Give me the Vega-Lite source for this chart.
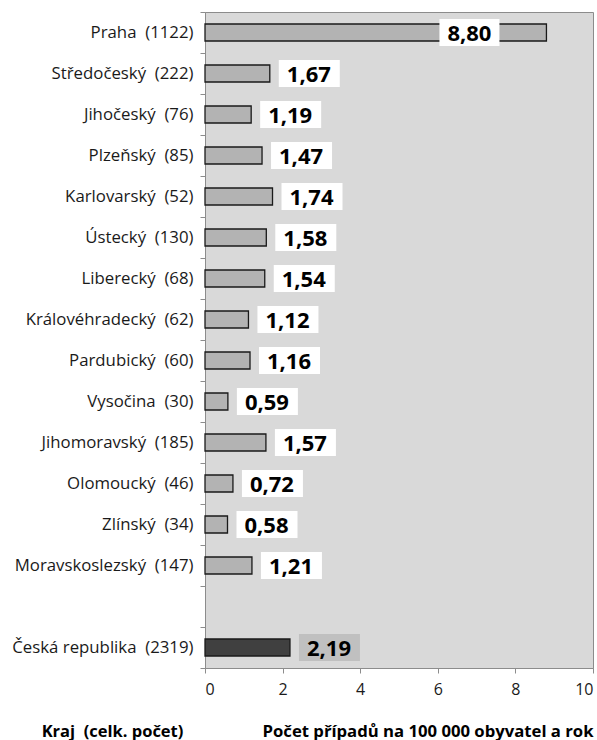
{
  "$schema": "https://vega.github.io/schema/vega-lite/v6.json",
  "width": 388,
  "height": 656,
  "autosize": {"type": "none"},
  "padding": {"left": 205, "top": 12, "right": 4, "bottom": 72},
  "background": "white",
  "config": {
    "font": "Open Sans",
    "view": {"fill": "#d9d9d9", "stroke": "#8c8c8c", "strokeWidth": 1},
    "locale": {"number": {"decimal": ",", "thousands": " ", "grouping": [3], "currency": ["", " Kč"]}}
  },
  "data": {
    "values": [
      {"kraj": "Praha\u00a0 (1122)", "typ": "kraj", "v": 8.80},
      {"kraj": "Středočeský\u00a0 (222)", "typ": "kraj", "v": 1.67},
      {"kraj": "Jihočeský\u00a0 (76)", "typ": "kraj", "v": 1.19},
      {"kraj": "Plzeňský\u00a0 (85)", "typ": "kraj", "v": 1.47},
      {"kraj": "Karlovarský\u00a0 (52)", "typ": "kraj", "v": 1.74},
      {"kraj": "Ústecký\u00a0 (130)", "typ": "kraj", "v": 1.58},
      {"kraj": "Liberecký\u00a0 (68)", "typ": "kraj", "v": 1.54},
      {"kraj": "Královéhradecký\u00a0 (62)", "typ": "kraj", "v": 1.12},
      {"kraj": "Pardubický\u00a0 (60)", "typ": "kraj", "v": 1.16},
      {"kraj": "Vysočina\u00a0 (30)", "typ": "kraj", "v": 0.59},
      {"kraj": "Jihomoravský\u00a0 (185)", "typ": "kraj", "v": 1.57},
      {"kraj": "Olomoucký\u00a0 (46)", "typ": "kraj", "v": 0.72},
      {"kraj": "Zlínský\u00a0 (34)", "typ": "kraj", "v": 0.58},
      {"kraj": "Moravskoslezský\u00a0 (147)", "typ": "kraj", "v": 1.21},
      {"kraj": "Česká republika\u00a0 (2319)", "typ": "CR", "v": 2.19}
    ]
  },
  "encoding": {
    "y": {
      "field": "kraj",
      "type": "nominal",
      "sort": null,
      "scale": {
        "domain": [
          "Praha\u00a0 (1122)",
          "Středočeský\u00a0 (222)",
          "Jihočeský\u00a0 (76)",
          "Plzeňský\u00a0 (85)",
          "Karlovarský\u00a0 (52)",
          "Ústecký\u00a0 (130)",
          "Liberecký\u00a0 (68)",
          "Královéhradecký\u00a0 (62)",
          "Pardubický\u00a0 (60)",
          "Vysočina\u00a0 (30)",
          "Jihomoravský\u00a0 (185)",
          "Olomoucký\u00a0 (46)",
          "Zlínský\u00a0 (34)",
          "Moravskoslezský\u00a0 (147)",
          " ",
          "Česká republika\u00a0 (2319)"
        ],
        "paddingInner": 0,
        "paddingOuter": 0
      },
      "axis": {
        "title": "Kraj\u00a0 (celk. počet)",
        "titleAngle": 0,
        "titleX": -93,
        "titleY": 724,
        "titleAlign": "center",
        "titleBaseline": "alphabetic",
        "titleFontWeight": "bold",
        "titleFontSize": 16.5,
        "titleColor": "#000000",
        "domainColor": "#8c8c8c",
        "tickColor": "#8c8c8c",
        "tickBand": "extent",
        "tickSize": 5,
        "labelFontSize": 16.8,
        "labelPadding": 7,
        "labelColor": "#1a1a1a",
        "labelLimit": 300
      }
    }
  },
  "layer": [
    {
      "mark": {"type": "bar", "size": 17, "stroke": "#1a1a1a", "strokeWidth": 1.3},
      "encoding": {
        "x": {
          "field": "v",
          "type": "quantitative",
          "scale": {"domain": [0, 10], "nice": false},
          "axis": {
            "values": [0, 2, 4, 6, 8, 10],
            "grid": false,
            "title": "Počet případů na 100 000 obyvatel a rok",
            "titleAlign": "left",
            "titleX": 57,
            "titleY": 68,
            "titleBaseline": "alphabetic",
            "titleFontWeight": "bold",
            "titleFontSize": 16.7,
            "titleColor": "#000000",
            "domainColor": "#8c8c8c",
            "tickColor": "#8c8c8c",
            "tickSize": 5,
            "labelFontSize": 16,
            "labelPadding": 8,
            "labelColor": "#1a1a1a",
            "labelFlush": true
          }
        },
        "color": {
          "field": "typ",
          "type": "nominal",
          "scale": {"domain": ["kraj", "CR"], "range": ["#b3b3b3", "#404040"]},
          "legend": null
        }
      }
    },
    {
      "transform": [{"filter": "datum.v < 5"}],
      "mark": {"type": "bar", "size": 27, "xOffset": 9, "x2Offset": 70},
      "encoding": {
        "x": {"field": "v", "type": "quantitative"},
        "x2": {"field": "v"},
        "fill": {"condition": {"test": "datum.typ === 'CR'", "value": "#c0c0c0"}, "value": "#ffffff"}
      }
    },
    {
      "transform": [{"filter": "datum.v < 5"}],
      "mark": {"type": "text", "dx": 39, "dy": 1, "fontSize": 22, "fontWeight": "bold", "align": "center", "baseline": "middle", "color": "#000000"},
      "encoding": {
        "x": {"field": "v", "type": "quantitative"},
        "text": {"field": "v", "type": "quantitative", "format": ".2f"}
      }
    },
    {
      "transform": [{"filter": "datum.v >= 5"}],
      "mark": {"type": "bar", "size": 27, "xOffset": -107, "x2Offset": -47, "color": "#ffffff"},
      "encoding": {
        "x": {"field": "v", "type": "quantitative"},
        "x2": {"field": "v"}
      }
    },
    {
      "transform": [{"filter": "datum.v >= 5"}],
      "mark": {"type": "text", "dx": -77, "dy": 1, "fontSize": 22, "fontWeight": "bold", "align": "center", "baseline": "middle", "color": "#000000"},
      "encoding": {
        "x": {"field": "v", "type": "quantitative"},
        "text": {"field": "v", "type": "quantitative", "format": ".2f"}
      }
    }
  ]
}
